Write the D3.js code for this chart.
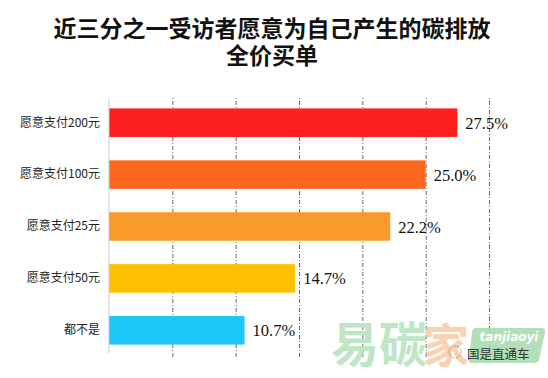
<!DOCTYPE html>
<html>
<head>
<meta charset="utf-8">
<script src="https://cdn.jsdelivr.net/npm/d3@7"></script>
<style>
  body { margin:0; background:#fff; }
  #chart { position:relative; width:548px; height:378px; }
  svg { display:block; }
  .title {
    position:absolute; left:0; top:13.5px; width:544px;
    text-align:center; font-family:'Noto Sans CJK SC', sans-serif;
    font-weight:bold; font-size:23px; line-height:27.5px; color:#111;
  }
</style>
</head>
<body>
<div id="chart"></div>
<script>
const titleLines = ["近三分之一受访者愿意为自己产生的碳排放", "全价买单"]
const categories = ["愿意支付200元", "愿意支付100元", "愿意支付25元", "愿意支付50元", "都不是"]
const values = [27.5, 25.0, 22.2, 14.7, 10.7]
const barColors = ["#fd1e1e", "#fd6a1f", "#fa9a2b", "#fec000", "#1dc8f8"]
const xTicks = [0, 5, 10, 15, 20, 25, 30]

let width = 548, height = 378,
    margin = { top:97, left:109, right:59, bottom:22 }

let svg = d3.select("#chart").append("svg")
  .attr("width", width).attr("height", height)

// title as html, two lines
d3.select("#chart").append("div")
  .attr("class", "title")
  .html(titleLines.join("<br>"))

let xScale = d3.scaleLinear().domain([0, 30]).range([margin.left, width - margin.right])
let yScale = d3.scaleBand().domain(categories)
  .range([margin.top, height - margin.bottom]).paddingInner(0.45).paddingOuter(0.22)

// grid lines
let xAxis = d3.axisBottom(xScale).tickValues(xTicks.slice(1)).tickSize(-(height - margin.bottom - margin.top + 2)).tickFormat("")
let xGroup = svg.append("g").attr("transform", `translate(0,${height - margin.bottom + 1})`).call(xAxis)
xGroup.select(".domain").remove()
xGroup.selectAll(".tick line")
  .attr("stroke", "#666")
  .attr("stroke-dasharray", "4,2,1,2")

// watermark
let wm = svg.append("g")
wm.append("text").attr("x", 331).attr("y", 362)
  .attr("font-family", "'Noto Sans CJK SC', sans-serif").attr("font-size", 48).attr("font-weight", "bold")
  .attr("fill", "#b3e2bb").attr("opacity", 0.85).text("易碳")
wm.append("text").attr("x", 423).attr("y", 362)
  .attr("font-family", "'Noto Sans CJK SC', sans-serif").attr("font-size", 46).attr("font-weight", "bold")
  .attr("fill", "#f8caa6").attr("opacity", 0.85).text("家")
wm.append("path")
  .attr("d", "M476,328 L542,328 Q546,328 545,332 L539,360 Q538,363 534,363 L472,363 Q468,363 469,359 L472,332 Q473,328 476,328 Z")
  .attr("fill", "#a9dcb0").attr("opacity", 0.9)
wm.append("text").attr("x", 509).attr("y", 341)
  .attr("text-anchor", "middle").attr("font-family", "'DejaVu Sans', sans-serif")
  .attr("font-size", 12).attr("font-style", "italic").attr("font-weight", "bold")
  .attr("fill", "#fff").text("tanjiaoyi")
wm.append("circle").attr("cx", 455).attr("cy", 352).attr("r", 6)
  .attr("fill", "none").attr("stroke", "#888").attr("stroke-width", 0.8).attr("stroke-dasharray", "2,1")
wm.append("text").attr("x", 467).attr("y", 359)
  .attr("font-family", "'Noto Sans CJK SC', sans-serif").attr("font-size", 12.5)
  .attr("fill", "#333").text("国是直通车")

// bars
svg.selectAll(".bar")
  .data(values)
  .enter()
  .append("rect")
  .attr("class", "bar")
  .attr("x", xScale(0))
  .attr("y", (d,i) => yScale(categories[i]))
  .attr("width", d => xScale(d) - xScale(0))
  .attr("height", yScale.bandwidth())
  .attr("fill", (d,i) => barColors[i])

// value labels
svg.selectAll(".val")
  .data(values)
  .enter()
  .append("text")
  .attr("class", "val")
  .attr("x", d => xScale(d) + 8)
  .attr("y", (d,i) => yScale(categories[i]) + yScale.bandwidth()/2 + 6)
  .attr("font-family", "'Liberation Serif', serif")
  .attr("font-size", 16.5)
  .attr("fill", "#111")
  .text(d => d.toFixed(1) + "%")

// y axis
let yAxis = d3.axisLeft(yScale).tickSize(0).tickPadding(9)
let yGroup = svg.append("g").attr("transform", `translate(${margin.left},0)`).call(yAxis)
yGroup.select(".domain").attr("stroke", "#c8c8c8").attr("d", `M0,${margin.top + 2}V${height - margin.bottom - 3}`)
yGroup.selectAll("text")
  .attr("font-family", "'Noto Sans CJK SC', sans-serif")
  .attr("font-size", 12)
  .attr("fill", "#222")
</script>
</body>
</html>
